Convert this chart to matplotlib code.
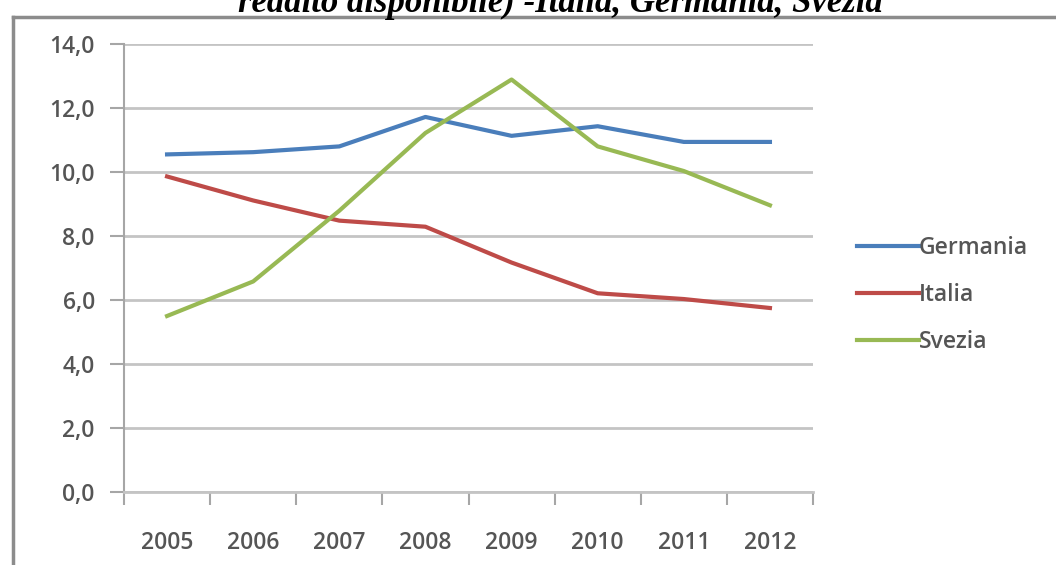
import matplotlib
matplotlib.use("Agg")
import matplotlib.pyplot as plt
from matplotlib.lines import Line2D
import numpy as np

years = ["2005", "2006", "2007", "2008", "2009", "2010", "2011", "2012"]
germania = [10.55, 10.62, 10.80, 11.72, 11.13, 11.43, 10.94, 10.94]
italia = [9.86, 9.11, 8.48, 8.29, 7.17, 6.21, 6.03, 5.75]
svezia = [5.50, 6.58, 8.79, 11.22, 12.89, 10.80, 10.03, 8.96]
series_names = ["Germania", "Italia", "Svezia"]
colors = ["#4A7EBB", "#BE4B48", "#98B954"]
yticks = [0, 2, 4, 6, 8, 10, 12, 14]
ytick_labels = ["0,0", "2,0", "4,0", "6,0", "8,0", "10,0", "12,0", "14,0"]
title = "reddito disponibile) -Italia, Germania, Svezia"

W, H = 1056, 565
fig = plt.figure(figsize=(W / 100, H / 100), dpi=100)
fig.patch.set_facecolor("white")

ax = fig.add_axes([124 / W, 1 - 492 / H, (813 - 124) / W, (492 - 44) / H])
x = np.arange(len(years))
for vals, name, c in zip([germania, italia, svezia], series_names, colors):
    ax.plot(x, vals, color=c, lw=3, label=name, solid_joinstyle="round", zorder=3)

lab_font = {"family": "Open Sans", "weight": "semibold", "size": 16.5}
txt_c = "#555555"

ax.set_xlim(-0.5, len(years) - 0.5)
ax.set_ylim(0, 14)
grid_c = "#C4C4C4"
axis_c = "#A6A6A6"
ax.set_yticks(yticks)
ax.set_yticklabels(ytick_labels)
ax.yaxis.grid(True, color=grid_c, lw=2)
ax.set_axisbelow(True)
ax.tick_params(axis="y", length=10, width=1.5, color=axis_c, pad=11,
               labelcolor=txt_c)
ax.set_xticks(np.arange(len(years) + 1) - 0.5)
ax.set_xticklabels([""] * (len(years) + 1))
ax.set_xticks(x, minor=True)
ax.set_xticklabels(years, minor=True)
ax.tick_params(axis="x", which="major", length=9, width=1.5, color=axis_c)
ax.tick_params(axis="x", which="minor", length=0, pad=28, labelcolor=txt_c)
for lab in ax.get_xticklabels(minor=True) + ax.get_yticklabels():
    lab.set_fontproperties(lab_font)
for s in ["top", "right"]:
    ax.spines[s].set_visible(False)
ax.spines["left"].set_color(axis_c)
ax.spines["left"].set_linewidth(1.5)
ax.spines["bottom"].set_color(grid_c)
ax.spines["bottom"].set_linewidth(2)

leg = ax.legend(loc="center left", bbox_to_anchor=(857 / W, 1 - 295 / H),
                bbox_transform=fig.transFigure, frameon=False, borderpad=0,
                borderaxespad=0, handlelength=2.7, handletextpad=0.0,
                labelspacing=1.0, prop=lab_font)
for t in leg.get_texts():
    t.set_color(txt_c)

# outer frame
fig.add_artist(Line2D([13 / W, 13 / W], [0, 1 - 17 / H], transform=fig.transFigure,
                      color="#8C8C8C", lw=2.5))
fig.add_artist(Line2D([13 / W, 1], [1 - 17 / H, 1 - 17 / H], transform=fig.transFigure,
                      color="#8C8C8C", lw=2.5))

fig.text(560 / W, 1 - 12 / H, title, ha="center", va="baseline",
         fontsize=25, fontweight="bold", fontstyle="italic",
         family="Liberation Serif", color="black")

fig.savefig("out.png", dpi=100)
